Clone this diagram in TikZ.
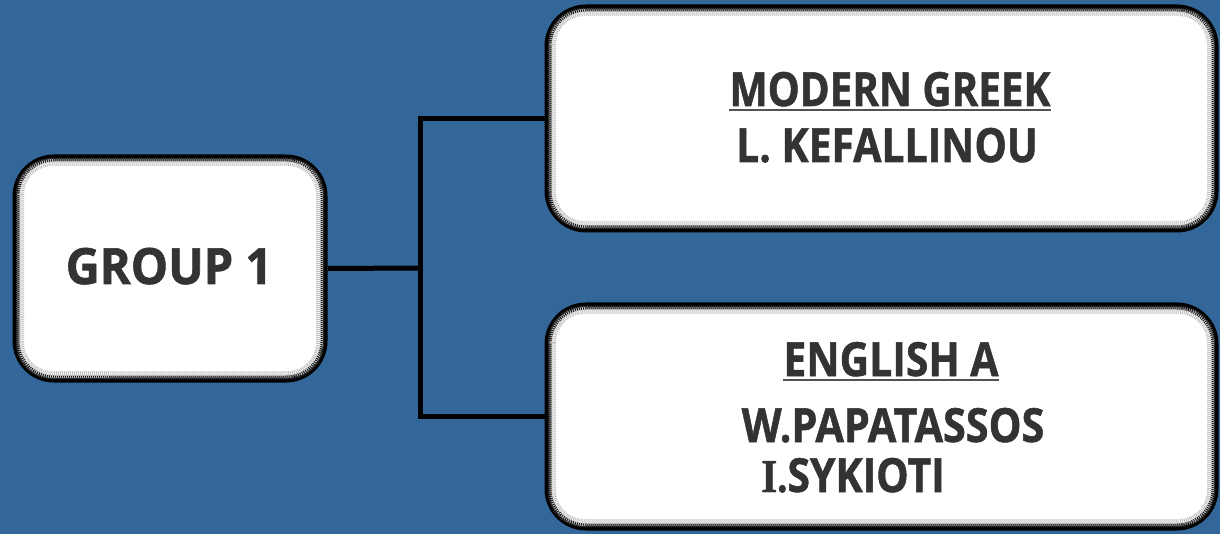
\documentclass[tikz,border=0pt]{standalone}
\usepackage{fontspec}
\usepackage{graphicx}
\setmainfont{Open Sans}[BoldFeatures={FakeBold=1.2}]
\newfontfamily\serifbold{Liberation Serif}[BoldFeatures={FakeBold=1}]
\definecolor{bgblue}{HTML}{336699}
\definecolor{ink}{HTML}{333333}
\tikzset{
  box/.style={draw=black, fill=white, line width=7pt, rounded corners=38pt, inner sep=0pt},
  grain/.style={draw=gray!50, line width=7pt, dash pattern=on 1pt off 1pt, rounded corners=32pt},
  grainin/.style={draw=black!75, line width=2pt, dash pattern=on 1pt off 1pt, dash phase=1pt, rounded corners=35pt},
  conn/.style={draw=black, line width=5pt},
  label/.style={text=ink, font=\bfseries, inner sep=0pt, anchor=base},
  uline/.style={draw=ink!85, line width=2pt}
}
\begin{document}
\begin{tikzpicture}[x=1pt,y=-1pt]
\fill[bgblue] (0,0) rectangle (1220,534);
\useasboundingbox (0,0) rectangle (1220,534);

% boxes
\node[box, minimum width=308pt, minimum height=221pt] (g) at (170,268.5) {};
\node[box, minimum width=667pt, minimum height=221pt] (m) at (881.5,118.5) {};
\node[box, minimum width=667pt, minimum height=221pt] (e) at (881.5,416.5) {};

% stippled inner rim
\foreach \b in {g,m,e}{
  \draw[grain] ([xshift=8pt,yshift=-8pt]\b.north west) rectangle ([xshift=-8pt,yshift=8pt]\b.south east);
  \draw[grainin] ([xshift=4.5pt,yshift=-4.5pt]\b.north west) rectangle ([xshift=-4.5pt,yshift=4.5pt]\b.south east);
}

% connectors
\coordinate (j) at (420,268);
\draw[conn] (g.east) -- (j);
\draw[conn] (m.west) -| (j) |- (e.west);

% texts
\node[label, font=\bfseries\fontsize{50}{60}\selectfont] (tg) at (169,284) {\scalebox{0.94}[1]{GROUP 1}};
\node[label, font=\bfseries\fontsize{47}{56}\selectfont] (t1) at (890,106) {\scalebox{0.86}[1]{MODERN GREEK}};
\draw[uline] ([yshift=-4pt]t1.base west) -- ([yshift=-4pt]t1.base east);
\node[label, font=\bfseries\fontsize{47}{56}\selectfont] (t2) at (887,162) {\scalebox{0.87}[1]{L. KEFALLINOU}};
\node[label, font=\bfseries\fontsize{47}{56}\selectfont] (t3) at (891,376) {\scalebox{0.87}[1]{ENGLISH A}};
\draw[uline] ([yshift=-4pt]t3.base west) -- ([yshift=-4pt]t3.base east);
\node[label, font=\bfseries\fontsize{47}{56}\selectfont] (t4) at (893,442) {\scalebox{0.88}[1]{W.PAPATASSOS}};
\node[label, font=\bfseries\fontsize{47}{56}\selectfont] (t5) at (853,492) {\scalebox{0.87}[1]{{\serifbold I.}SYKIOTI}};
\end{tikzpicture}
\end{document}
